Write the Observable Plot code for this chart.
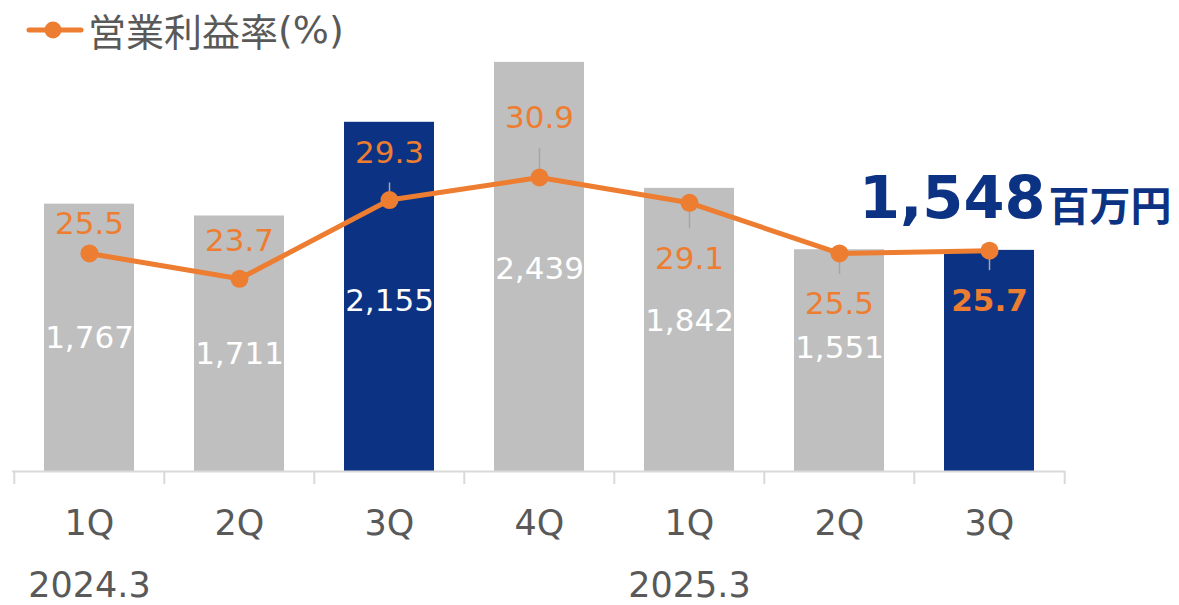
<!DOCTYPE html>
<html>
<head>
<meta charset="utf-8">
<script src="https://cdn.jsdelivr.net/npm/d3@7"></script>
<script src="https://cdn.jsdelivr.net/npm/@observablehq/plot@0.6"></script>
<style>
  html, body { margin: 0; padding: 0; background: #fff; }
  #wrap { position: relative; width: 1179px; height: 605px; font-family: "DejaVu Sans", "Noto Sans CJK JP", sans-serif; }
  #legend { position: absolute; left: 26px; top: 4px; display: flex; align-items: center; color: #595959; font-size: 38px; line-height: 52px; font-family: "DejaVu Sans", "Noto Sans CJK JP", sans-serif; }
  #legend svg { margin-right: 4px; }
  #chart { position: absolute; left: 0; top: 0; }
</style>
</head>
<body>
<div id="wrap">
  <div id="chart"></div>
  <div id="legend"><svg width="58" height="22"><line x1="3" y1="11" x2="55" y2="11" stroke="#ED7D31" stroke-width="5" stroke-linecap="round"/><circle cx="27" cy="11" r="8.5" fill="#ED7D31"/></svg><span style="font-family:'Noto Sans CJK JP'">営業利益率</span><span>(%)</span></div>
</div>
<script>
// ---- data ----
const quarters = ["1Q", "2Q", "3Q", "4Q", "1Q", "2Q", "3Q"];
const fiscalYears = ["2024.3", "2024.3", "2024.3", "2024.3", "2025.3", "2025.3", "2025.3"];
const profit = [1767, 1711, 2155, 2439, 1842, 1551, 1548];
const marginRate = [25.5, 23.7, 29.3, 30.9, 29.1, 25.5, 25.7];
const highlighted = [false, false, true, false, false, false, true];
const unitLabel = "百万円";

// ---- config (styling / layout) ----
const gray = "#BFBFBF", navy = "#0C3383", orange = "#ED7D31", textGray = "#595959", leaderGray = "#A6A6A6";
const yMin = 500, yMax = 2500;      // primary axis
const rMin = 10, rMax = 40;         // secondary axis (%)
const toY = r => yMin + (r - rMin) * (yMax - yMin) / (rMax - rMin);
const W = 1179, H = 605, mL = 12, mR = 114, mT = 49, mB = 134;
const step = (W - mL - mR) / quarters.length;
const font = "DejaVu Sans, Noto Sans CJK JP, sans-serif";
// label placement offsets (px) for rate labels and bar labels, as in the original slide
const rateLabelDy = [-29, -38, -47, -59, 56, 51, 50];
const barLabelDy = [0, 10, 4, 2, -9, -13, 0];
const pxPerUnit = (H - mT - mB) / (yMax - yMin);

const data = quarters.map((q, i) => ({
  key: fiscalYears[i] + "-" + q,
  quarter: q,
  year: fiscalYears[i],
  profit: profit[i],
  rate: marginRate[i],
  hl: highlighted[i],
  i
}));
const last = data[data.length - 1];
const firstOfYear = data.filter((d, i) => i === 0 || data[i - 1].year !== d.year);
const withLeader = data.filter(d => Math.abs(rateLabelDy[d.i]) > 45);

const chart = Plot.plot({
  width: W, height: H,
  marginLeft: mL, marginRight: mR, marginTop: mT, marginBottom: mB,
  style: { fontFamily: font, background: "transparent" },
  x: { domain: data.map(d => d.key), paddingInner: 0.4, paddingOuter: 0.2, axis: null },
  y: { domain: [yMin, yMax], axis: null },
  marks: [
    Plot.barY(data, { x: "key", y1: yMin, y2: "profit", fill: d => d.hl ? navy : gray }),
    Plot.ruleY([yMin], { stroke: "#D9D9D9", strokeWidth: 2 }),
    Plot.ruleX(data, { x: "key", dx: -step / 2, y1: yMin, y2: yMin - 13 / pxPerUnit, stroke: "#D9D9D9", strokeWidth: 2 }),
    Plot.ruleX([last], { x: "key", dx: step / 2, y1: yMin, y2: yMin - 13 / pxPerUnit, stroke: "#D9D9D9", strokeWidth: 2 }),
    // bar value labels
    Plot.text(data.filter(d => d !== last), {
      x: "key", y: d => (yMin + d.profit) / 2 - barLabelDy[d.i] / pxPerUnit, text: d => d3.format(",")(d.profit),
      fill: "white", fontSize: 31
    }),
    // leader lines
    Plot.ruleX(withLeader, {
      x: "key", y1: d => toY(d.rate),
      y2: d => toY(d.rate) - Math.sign(rateLabelDy[d.i]) * (Math.abs(rateLabelDy[d.i]) - 30) / pxPerUnit,
      stroke: leaderGray, strokeWidth: 1.5
    }),
    // line
    Plot.line(data, { x: "key", y: d => toY(d.rate), stroke: orange, strokeWidth: 5 }),
    Plot.dot(data, { x: "key", y: d => toY(d.rate), r: 9, fill: orange }),
    // rate labels
    Plot.text(data.filter(d => d !== last), {
      x: "key", y: d => toY(d.rate) - rateLabelDy[d.i] / pxPerUnit, text: d => d.rate.toFixed(1),
      fill: orange, fontSize: 31
    }),
    Plot.text([last], {
      x: "key", y: d => toY(d.rate) - rateLabelDy[d.i] / pxPerUnit, text: d => d.rate.toFixed(1),
      fill: orange, fontSize: 31, fontWeight: "bold"
    }),
    // big highlight label
    Plot.text([last], {
      x: "key", y: "profit", text: d => d3.format(",")(d.profit),
      fill: navy, fontSize: 59, fontWeight: "bold", textAnchor: "end", lineAnchor: "bottom",
      dx: 56, dy: -32
    }),
    Plot.text([last], {
      x: "key", y: "profit", text: () => unitLabel,
      fill: navy, fontSize: 41, fontWeight: "bold", textAnchor: "start", lineAnchor: "bottom",
      dx: 59, dy: -29, fontFamily: "Noto Sans CJK JP"
    }),
    // x-axis labels
    Plot.text(data, {
      x: "key", text: "quarter", frameAnchor: "bottom", lineAnchor: "top",
      dy: 39, fontSize: 35, fill: textGray
    }),
    Plot.text(firstOfYear, {
      x: "key", text: "year", frameAnchor: "bottom", lineAnchor: "top",
      dy: 101, fontSize: 35, fill: textGray
    })
  ]
});
document.getElementById("chart").appendChild(chart);
</script>
</body>
</html>
